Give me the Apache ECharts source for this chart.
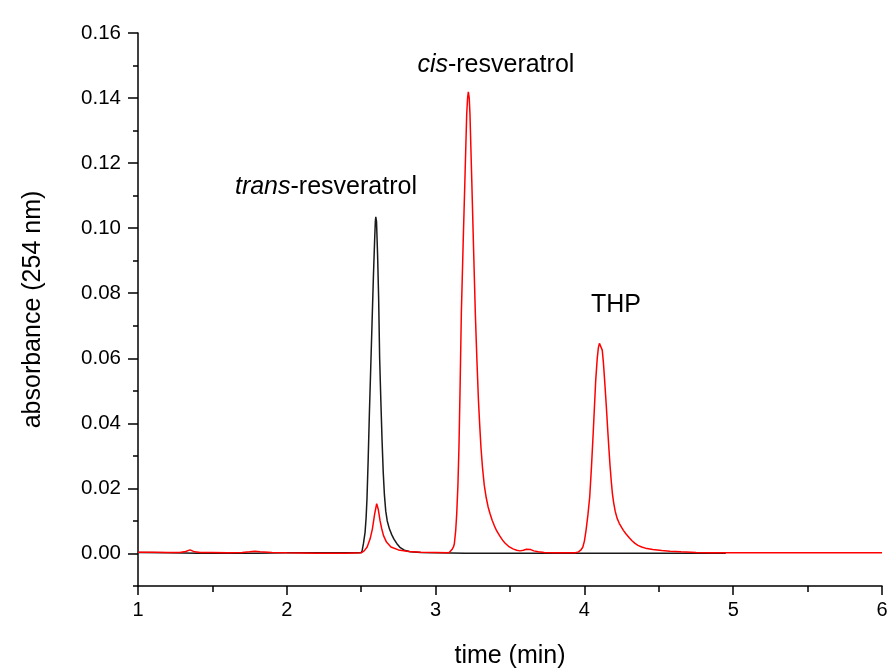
<!DOCTYPE html>
<html>
<head>
<meta charset="utf-8">
<script src="https://cdn.jsdelivr.net/npm/echarts@6/dist/echarts.min.js"></script>
<style>
html,body{margin:0;padding:0;background:#fff;}
#chart{width:889px;height:668px;}
</style>
</head>
<body>
<div id="chart"></div>
<script>
// time (min) and absorbance values for the black trace (trans-resveratrol standard)
var blackTime = [1.0,1.2,1.4,1.6,1.8,2.0,2.2,2.4,2.48,2.50,2.507,2.515,2.526,2.533,2.539,2.547,2.555,2.564,2.573,2.582,2.590,2.595,2.598,2.603,2.610,2.617,2.624,2.632,2.640,2.648,2.656,2.665,2.675,2.69,2.705,2.72,2.74,2.76,2.79,2.83,2.9,3.2,3.6,4.0,4.4,4.95];
var blackAbs  = [0.0003,0.0002,0.0001,0.0001,0.0001,0.0002,0.0002,0.0002,0.0002,0.0003,0.001,0.003,0.0065,0.011,0.017,0.029,0.043,0.057,0.071,0.085,0.096,0.102,0.1035,0.102,0.092,0.079,0.060,0.047,0.035,0.025,0.018,0.013,0.010,0.0075,0.0058,0.0044,0.003,0.0019,0.001,0.0005,0.0003,0.0001,0.0001,0.0001,0.0001,0.0001];

// time (min) and absorbance values for the red trace (irradiated sample)
var redTime = [1.0,1.1,1.2,1.28,1.32,1.35,1.38,1.42,1.5,1.6,1.7,1.75,1.786,1.82,1.9,2.0,2.2,2.4,2.5,2.52,2.54,2.56,2.575,2.59,2.604,2.615,2.627,2.638,2.65,2.67,2.70,2.75,2.82,2.9,3.0,
  3.09,3.10,3.11,3.12,3.126,3.135,3.142,3.150,3.157,3.165,3.173,3.185,3.197,3.209,3.215,3.220,3.226,3.231,3.243,3.255,3.267,3.278,3.288,3.297,3.305,3.315,3.327,3.34,3.353,3.366,3.38,3.395,3.41,3.43,3.45,3.466,3.49,3.52,3.545,3.567,3.59,3.61,3.623,3.64,3.66,3.69,3.73,3.8,
  3.94,3.96,3.975,3.989,4.00,4.011,4.024,4.036,4.048,4.060,4.076,4.086,4.094,4.101,4.107,4.113,4.120,4.128,4.136,4.147,4.157,4.165,4.172,4.18,4.188,4.197,4.207,4.22,4.235,4.25,4.262,4.28,4.30,4.32,4.34,4.36,4.385,4.42,4.46,4.52,4.575,4.65,4.75,4.85,5.0,5.5,6.0];
var redAbs  = [0.0004,0.0004,0.0003,0.0003,0.0006,0.0011,0.0005,0.0003,0.0003,0.0002,0.0003,0.0005,0.0007,0.0005,0.0003,0.0002,0.0001,0.0001,0.0002,0.0008,0.002,0.0045,0.0075,0.012,0.0153,0.0135,0.010,0.0076,0.0055,0.0035,0.002,0.0011,0.0006,0.0004,0.0003,
  0.0002,0.0005,0.0012,0.002,0.003,0.007,0.0122,0.021,0.0327,0.052,0.0738,0.095,0.1148,0.135,0.140,0.1419,0.140,0.135,0.1148,0.094,0.0738,0.059,0.047,0.039,0.0325,0.0265,0.021,0.0172,0.0143,0.0122,0.0102,0.0085,0.007,0.0055,0.0041,0.0032,0.0022,0.0014,0.001,0.0008,0.001,0.0013,0.0014,0.0012,0.0008,0.0005,0.0003,0.0002,
  0.0002,0.0005,0.001,0.0019,0.0038,0.0071,0.012,0.0175,0.027,0.0378,0.0532,0.0598,0.0633,0.0646,0.0648,0.0643,0.0625,0.0585,0.0532,0.0455,0.0378,0.032,0.0272,0.0225,0.0185,0.0155,0.013,0.0108,0.0092,0.008,0.0071,0.006,0.0049,0.0039,0.0031,0.0025,0.002,0.0015,0.0012,0.0009,0.0007,0.0005,0.0003,0.0002,0.0002,0.0002,0.0002];

// tick labels
var yTickValues = [0, 0.02, 0.04, 0.06, 0.08, 0.10, 0.12, 0.14, 0.16];
var xTickLabels = ['1','2','3','4','5','6'];

// peak annotations: [italic part, plain part, time, absorbance]
var peakLabels = [
  ['trans', '-resveratrol', 2.263, 0.1126],
  ['cis', '-resveratrol', 3.405, 0.1502],
  ['', 'THP', 4.212, 0.0763]
];

function zip(a, b) { var r = []; for (var i = 0; i < a.length; i++) r.push([a[i], b[i]]); return r; }

var FONT = '"Liberation Sans", Arial, sans-serif';
var chart = echarts.init(document.getElementById('chart'), null, {renderer: 'canvas'});

var option = {
  backgroundColor: '#ffffff',
  animation: false,
  grid: {left: 138, right: 7, top: 33, bottom: 82, containLabel: false, outerBoundsMode: 'none'},
  xAxis: {
    type: 'value', min: 1, max: 6, interval: 1,
    name: 'time (min)', nameLocation: 'middle', nameGap: 58,
    nameTextStyle: {fontFamily: FONT, fontSize: 25, color: '#000'},
    axisLine: {show: true, onZero: false, lineStyle: {color: '#000', width: 1.5}},
    axisTick: {show: true, inside: false, length: 9, lineStyle: {color: '#000', width: 1.5}},
    minorTick: {show: true, splitNumber: 2, length: 6, lineStyle: {color: '#000', width: 1.5}},
    axisLabel: {fontFamily: FONT, fontSize: 20, color: '#000', margin: 14,
      formatter: function (v) { var i = Math.round(v) - 1; return xTickLabels[i] !== undefined ? xTickLabels[i] : ''; }},
    splitLine: {show: false}, minorSplitLine: {show: false}
  },
  yAxis: [{
    type: 'value', min: -0.01, max: 0.16,
    name: 'absorbance (254 nm)', nameLocation: 'middle', nameGap: 92,
    nameTextStyle: {fontFamily: FONT, fontSize: 25, color: '#000'},
    axisLine: {show: true, onZero: false, lineStyle: {color: '#000', width: 1.5}},
    axisTick: {show: true, length: 10, customValues: yTickValues, lineStyle: {color: '#000', width: 1.5}},
    axisLabel: {fontFamily: FONT, fontSize: 20.5, color: '#000', margin: 17, customValues: yTickValues,
      formatter: function (v) { return v.toFixed(2); }},
    splitLine: {show: false}
  }, {
    type: 'value', min: -0.01, max: 0.16, interval: 0.01, position: 'left',
    axisLine: {show: false},
    axisTick: {show: true, length: 5, lineStyle: {color: '#000', width: 1.5}},
    axisLabel: {show: false},
    splitLine: {show: false}
  }],
  series: [{
    type: 'line', name: 'trans', data: zip(blackTime, blackAbs), yAxisIndex: 0,
    showSymbol: false, smooth: false,
    lineStyle: {color: '#1a1a1a', width: 1.5}, z: 2
  }, {
    type: 'line', name: 'irradiated', data: zip(redTime, redAbs), yAxisIndex: 0,
    showSymbol: false, smooth: false,
    lineStyle: {color: '#ff0000', width: 1.5}, z: 3,
    markPoint: {
      symbol: 'circle', symbolSize: 0, silent: true,
      label: {show: true, position: 'inside', fontFamily: FONT, fontSize: 25, color: '#000',
        formatter: function (p) { var it = peakLabels[p.dataIndex][0]; return (it ? '{i|' + it + '}' : '') + '{n|' + peakLabels[p.dataIndex][1] + '}'; },
        rich: {i: {fontStyle: 'italic', fontFamily: FONT, fontSize: 25, color: '#000'}, n: {fontFamily: FONT, fontSize: 25, color: '#000'}}},
      data: peakLabels.map(function (p) { return {coord: [p[2], p[3]], value: 0}; })
    }
  }]
};
chart.setOption(option);
</script>
</body>
</html>
